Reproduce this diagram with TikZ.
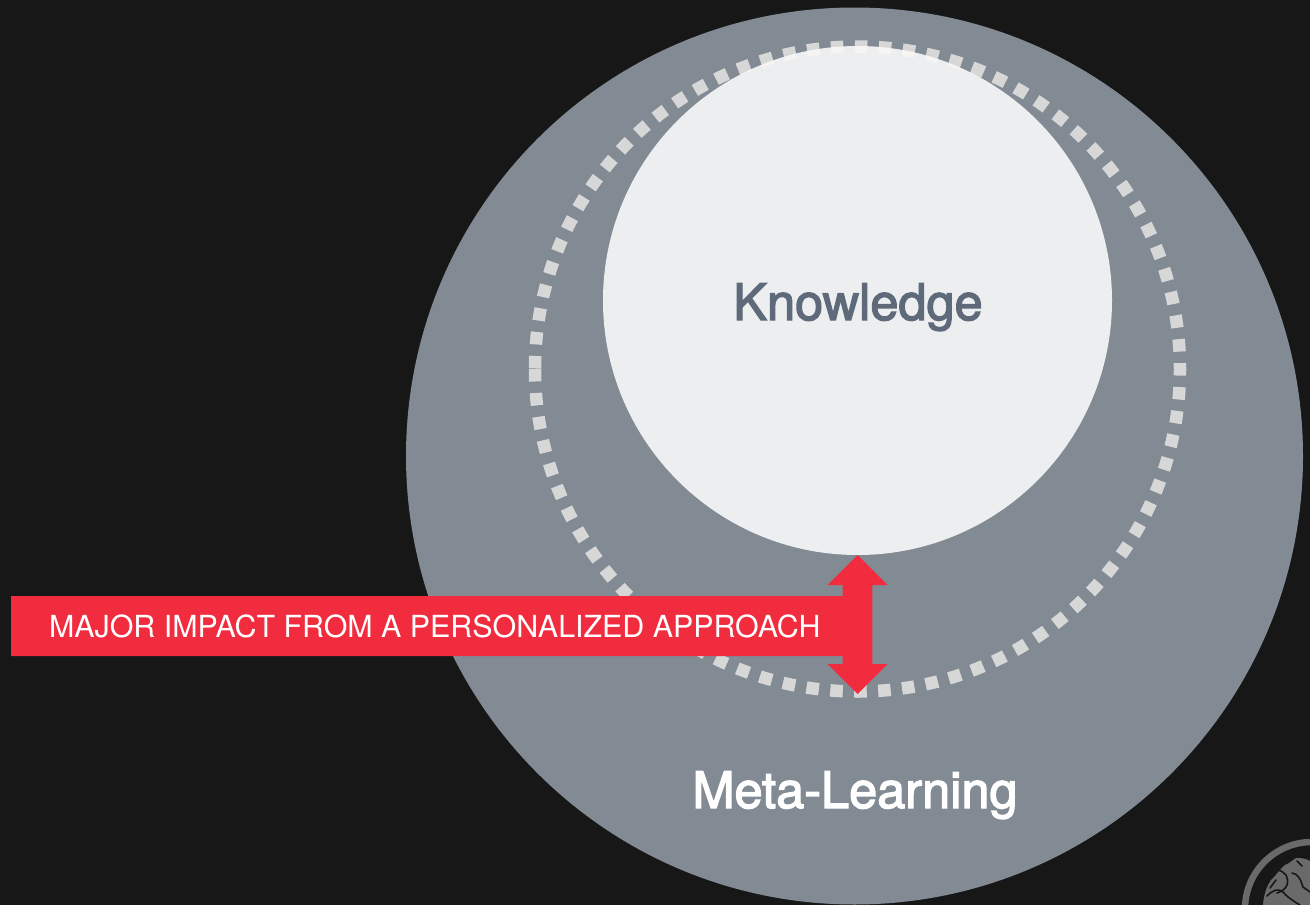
\documentclass[tikz,border=0pt]{standalone}
\usepackage{fontspec}
\setmainfont{TeX Gyre Heros}
\newfontfamily\boldish[FakeBold=2.6]{TeX Gyre Heros}
\definecolor{bgc}{HTML}{171717}
\definecolor{outerc}{HTML}{828B93}
\definecolor{innerc}{HTML}{ECEEF0}
\definecolor{redc}{HTML}{F12C3E}
\definecolor{knowc}{HTML}{5E6A79}
\definecolor{logoc}{HTML}{6A6A6A}
\definecolor{ringc}{RGB}{252,248,245}
\tikzset{
  disc/.style={circle,minimum size=#1,inner sep=0pt,outer sep=0pt},
  dotring/.style={draw=ringc,draw opacity=.7,line width=12.5pt,dash pattern=on 12.5pt off 11.47pt},
  banner/.style={fill=redc,draw=none},
  lab/.style={inner sep=0pt,outer sep=0pt,anchor=base},
  sulcus/.style={draw=bgc,line width=1.6pt,line cap=round,line join=round}
}
\begin{document}
\begin{tikzpicture}[x=1pt,y=-1pt]
\useasboundingbox (0,0) rectangle (1310,905);
\fill[bgc] (0,0) rectangle (1310,905);
\node[disc=897pt,fill=outerc] (outer) at (854.5,456) {};
\node[disc=509pt,fill=innerc] (inner) at (857.5,300.5) {};
\draw[dotring] (535,369) arc[start angle=180,end angle=-180,radius=322.5];
\fill[banner] (11,596) -- (842.7,596) -- (842.7,585) -- (827.7,585) -- (857.7,555) -- (887.5,585) -- (872.3,585) -- (872.3,664) -- (887.5,664) -- (857.7,694) -- (827.7,664) -- (842.7,664) -- (842.7,656) -- (11,656) -- cycle;
\node[lab,anchor=base west,text=white] (banner) at (49,637) {\fontsize{30.4}{30.4}\selectfont MAJOR IMPACT FROM A PERSONALIZED APPROACH};
\node[lab,text=knowc] (know) at (858,320) {\boldish\fontsize{50.5}{50}\selectfont Knowledge};
\node[lab,text=white] (meta) at (855,808) {\boldish\fontsize{50.5}{50}\selectfont Meta-Learning};
\begin{scope}
\clip (0,0) rectangle (1310,905);
\draw[logoc,line width=6.5pt] (1312,909) circle[radius=67];
\fill[logoc] (1310,861) .. controls (1305,858) and (1300,858) .. (1296,858) -- (1289,863) -- (1285,865) .. controls (1279,870) and (1274,878) .. (1271,880) .. controls (1267,886) and (1264,893) .. (1263,905) -- (1310,905) -- cycle;
\draw[sulcus] (1278,870) .. controls (1286,872) and (1289,878) .. (1287,885) .. controls (1285,890) and (1280,892) .. (1277,893);
\draw[sulcus] (1270,888) -- (1276,880);
\draw[sulcus] (1267,896) .. controls (1273,890) and (1278,888) .. (1283,892) .. controls (1288,898) and (1295,902) .. (1300,905);
\draw[sulcus] (1292,873) .. controls (1298,874) and (1300,878) .. (1303,887) -- (1310,892);
\draw[sulcus] (1297,861) -- (1302,866);
\end{scope}
\end{tikzpicture}
\end{document}
